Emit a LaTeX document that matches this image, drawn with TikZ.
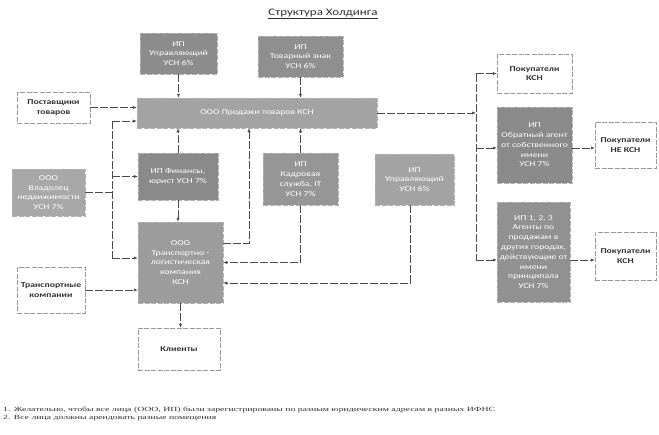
\documentclass[tikz,border=0pt]{standalone}
\usepackage{fontspec}
\setmainfont{Carlito}[FakeStretch=1.3]
\newfontfamily\notefont{Liberation Serif}[FakeStretch=1.55]
\usetikzlibrary{arrows.meta}

\definecolor{lnk}{HTML}{4A4A4A}
\definecolor{txt}{HTML}{303030}

\tikzset{
  boxbase/.style={minimum width=#1, inner sep=0pt, line width=0.5pt,
    dash pattern=on 5pt off 1.5pt, align=center},
  gbox/.style 2 args={boxbase=#2, fill=#1, draw=black!30, text=white,
    font=\fontsize{7.5}{9.8}\selectfont},
  wbox/.style={boxbase=#1, fill=white, draw=black!40, text=txt,
    font=\bfseries\fontsize{7.5}{9.8}\selectfont},
  link/.style={draw=lnk, line width=0.6pt, dash pattern=on 8pt off 2pt},
  arr/.style={link, -{Latex[length=4pt,width=3.2pt]}},
  note/.style={anchor=west, inner sep=0pt, text=txt},
}

\begin{document}
\begin{tikzpicture}[x=1pt, y=-1pt]
\useasboundingbox[fill=white] (0,0) rectangle (659,434);

% title
\node[font=\fontsize{10}{12}\selectfont, text=txt] (title) at (323,14)
  {\underline{Структура Холдинга}};

% top owners
\node[gbox={black!45}{77pt}, minimum height=41pt] (upr1) at (178.5,53.5)
  {ИП\\Управляющий\\УСН 6\%};
\node[gbox={black!44}{85pt}, minimum height=41pt] (tz) at (300.5,56.5)
  {ИП\\Товарный знак\\УСН 6\%};

% sales company row
\node[wbox=73pt, minimum height=31pt] (post) at (53.5,107.5)
  {Поставщики\\товаров};
\node[gbox={black!36}{240pt}, minimum height=30pt] (prod) at (257,113)
  {ООО Продажи товаров КСН};

% service entrepreneurs
\node[gbox={black!34}{73pt}, minimum height=47pt] (vlad) at (48.5,192.5)
  {ООО\\Владелец\\недвижимости\\УСН 7\%};
\node[gbox={black!46}{80pt}, minimum height=47pt] (fin) at (178,176.5)
  {ИП Финансы,\\юрист УСН 7\%};
\node[gbox={black!41}{75pt}, minimum height=52pt] (kadr) at (300.5,179)
  {ИП\\Кадровая\\служба, IT\\УСН 7\%};
\node[gbox={black!36}{79pt}, minimum height=51pt] (upr2) at (414.5,179.5)
  {ИП\\Управляющий\\УСН 6\%};

% transport company
\node[gbox={black!39}{85pt}, minimum height=81pt] (trans) at (180.5,262.5)
  {ООО\\Транспортно -\\логистическая\\компания\\КСН};
\node[wbox=68pt, minimum height=46pt] (tk) at (51,290)
  {Транспортные\\компании};
\node[wbox=82pt, minimum height=42pt] (kli) at (179,349) {Клиенты};

% buyers and agents
\node[wbox=75pt, minimum height=39pt] (pk1) at (534.5,73.5)
  {Покупатели\\КСН};
\node[gbox={black!46}{75pt}, minimum height=76pt] (obr) at (534.5,145)
  {ИП\\Обратный агент\\от собственного\\имени\\УСН 7\%};
\node[wbox=61pt, minimum height=46pt] (nks) at (625.5,145)
  {Покупатели\\НЕ КСН};
\node[gbox={black!43}{73pt}, minimum height=100pt] (ag) at (533.5,252)
  {ИП 1, 2, 3\\Агенты по\\продажам в\\других городах,\\действующие от\\имени\\принципала\\УСН 7\%};
\node[wbox=61pt, minimum height=48pt] (pk2) at (625.5,256)
  {Покупатели\\КСН};

% junction points
\coordinate (jTop) at (112,121);
\coordinate (jBot) at (112,258);
\coordinate (tp) at (249,243);
\coordinate (ut) at (410,283);
\coordinate (bR) at (476,113);
\coordinate (bTop) at (476,73.5);
\coordinate (yObr) at (476,148);
\coordinate (yAg) at (476,260);

% connectors into the sales company
\draw[arr] (upr1.south) -- (upr1.south |- prod.north);
\draw[arr] (tz.south) -- (tz.south |- prod.north);
\draw[arr] (post.east) -- (post.east -| prod.west);
\draw[arr] (fin.north) -- (fin.north |- prod.south);
\draw[arr] (kadr.north) -- (kadr.north |- prod.south);
\draw[arr] (tp -| trans.east) -- (tp) -- (tp |- prod.south);

% real estate owner bus
\draw[link] (vlad.east) -- (vlad.east -| jTop);
\draw[link] (jTop) -- (jBot);
\draw[arr] (jTop) -- (jTop -| prod.west);
\draw[arr] (jTop |- fin.west) -- (fin.west);
\draw[arr] (jBot) -- (jBot -| trans.west);

% connectors into the transport company
\draw[arr] (fin.south) -- (fin.south |- trans.north);
\draw[arr] (kadr.south) |- (trans.east);
\draw[arr] (ut |- upr2.south) -- (ut) -- (ut -| trans.east);
\draw[arr] (tk.east) -- (tk.east -| trans.west);
\draw[arr] (trans.south) -- (trans.south |- kli.north);

% sales distribution bus
\draw[arr] (prod.east |- bR) -- (bR);
\draw[link] (bTop) -- (yAg);
\draw[arr] (bTop) -- (pk1.west);
\draw[arr] (yObr) -- (yObr -| obr.west);
\draw[arr] (yAg) -- (yAg -| ag.west);
\draw[arr] (yObr -| obr.east) -- (yObr -| nks.west);
\draw[arr] (yAg -| ag.east) -- (yAg -| pk2.west);

% notes
\node[note] (n1) at (3,410)
  {\notefont\fontsize{6.3}{7}\selectfont 1. Желательно, чтобы все лица (ООО, ИП) были зарегистрированы по разным юридическим адресам в разных ИФНС};
\node[note] (n2) at (3,418)
  {\notefont\fontsize{6.3}{7}\selectfont 2. Все лица должны арендовать разные помещения};
\end{tikzpicture}
\end{document}
